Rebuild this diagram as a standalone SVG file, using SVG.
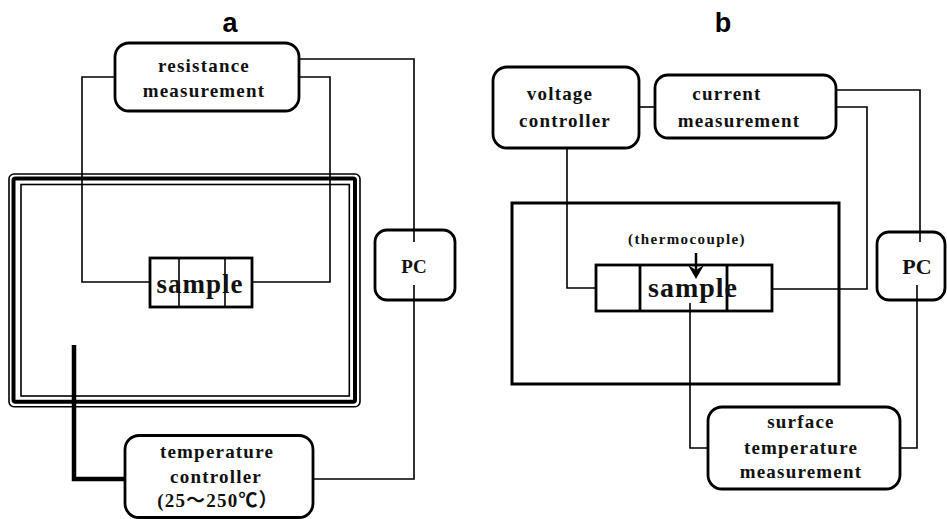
<svg xmlns="http://www.w3.org/2000/svg" width="947" height="519" viewBox="0 0 947 519">
<style>
.box{fill:#fff;stroke:#000;stroke-width:2.8}
.ln{fill:none;stroke:#000;stroke-width:1.6}
.t{font-family:"Liberation Serif","Noto Sans CJK SC",serif;font-weight:bold;font-size:19px;letter-spacing:1.2px;text-anchor:middle;fill:#111}
.big{font-size:28px;letter-spacing:1px}
.title{font-family:"Liberation Sans",Arial,sans-serif;font-weight:bold;font-size:27px;text-anchor:middle;fill:#000}
</style>
<rect width="947" height="519" fill="#fff"/>
<text class="title" x="230" y="32">a</text>
<text class="title" x="723" y="32">b</text>

<g id="chamber-a">
  <rect x="9" y="174" width="351" height="232.7" rx="5" fill="none" stroke="#000" stroke-width="1.6"/>
  <rect x="13.5" y="178.5" width="341.5" height="223.2" rx="2" fill="none" stroke="#000" stroke-width="4"/>
  <rect x="21" y="184.5" width="328.3" height="211.5" fill="none" stroke="#000" stroke-width="1.6"/>
</g>

<g id="resistance-measurement">
  <rect class="box" x="115" y="43" width="184" height="68" rx="14"/>
  <text class="t" x="204" y="72">resistance</text>
  <text class="t" x="204" y="97">measurement</text>
</g>

<g id="sample-a">
  <rect class="box" x="150" y="258" width="102" height="49"/>
  <line class="ln" x1="179" y1="258" x2="179" y2="307"/>
  <line class="ln" x1="225" y1="258" x2="225" y2="307"/>
  <text class="t big" x="200" y="293" style="font-size:27px">sample</text>
</g>

<g id="pc-a">
  <rect class="box" x="375" y="230" width="80" height="70" rx="12"/>
  <text class="t" x="414" y="273" style="font-size:19px;letter-spacing:0">PC</text>
</g>

<g id="temperature-controller">
  <rect class="box" x="125" y="435.5" width="188" height="82" rx="14"/>
  <text class="t" x="217" y="458">temperature</text>
  <text class="t" x="216" y="483">controller</text>
  <text class="t" x="218" y="507">(25～250℃）</text>
</g>

<g id="voltage-controller">
  <rect class="box" x="493" y="67" width="146" height="81" rx="14"/>
  <text class="t" x="560" y="100">voltage</text>
  <text class="t" x="565" y="127">controller</text>
</g>

<g id="current-measurement">
  <rect class="box" x="655" y="75" width="181" height="63" rx="13"/>
  <text class="t" x="727" y="100">current</text>
  <text class="t" x="739" y="127">measurement</text>
</g>

<g id="chamber-b">
  <rect x="512" y="203" width="327" height="181" fill="none" stroke="#000" stroke-width="3"/>
</g>

<g id="thermocouple">
  <text class="t" x="687" y="244" style="font-size:15px;letter-spacing:1.4px">(thermocouple)</text>
</g>

<g id="sample-b">
  <rect class="box" x="596" y="265" width="176" height="46"/>
  <line x1="640" y1="265" x2="640" y2="311" stroke="#000" stroke-width="2.8"/>
  <line x1="727" y1="265" x2="727" y2="311" stroke="#000" stroke-width="2.8"/>
  <text class="t big" x="693" y="297">sample</text>
</g>

<g id="pc-b">
  <rect class="box" x="877" y="232" width="68" height="68" rx="12"/>
  <text class="t" x="917" y="274" style="font-size:22px;letter-spacing:0">PC</text>
</g>

<g id="surface-temperature-measurement">
  <rect class="box" x="708" y="407" width="192" height="82" rx="14"/>
  <text class="t" x="801" y="428">surface</text>
  <text class="t" x="801" y="454">temperature</text>
  <text class="t" x="801" y="478">measurement</text>
</g>

<g id="connectors">
  <!-- panel a -->
  <polyline class="ln" points="115,77 82,77 82,282 150,282"/>
  <polyline class="ln" points="299,77 330,77 330,282 252,282"/>
  <polyline class="ln" points="299,59 414,59 414,242"/>
  <polyline class="ln" points="414,285 414,479 313,479"/>
  <polyline fill="none" stroke="#000" stroke-width="4.5" points="74,345 74,479 125,479"/>
  <!-- panel b -->
  <line class="ln" x1="639" y1="107" x2="655" y2="107"/>
  <polyline class="ln" points="836,90 920,90 920,242"/>
  <polyline class="ln" points="836,107 867,107 867,289 772,289"/>
  <polyline class="ln" points="567,148 567,288 596,288"/>
  <polyline class="ln" points="690,303 690,448 708,448"/>
  <polyline class="ln" points="917,285 917,448 900,448"/>
  <line x1="696" y1="253" x2="696" y2="272" stroke="#000" stroke-width="2.5"/>
  <polygon points="688,265 696,279 704,265 696,270" fill="#000"/>
</g>
</svg>
